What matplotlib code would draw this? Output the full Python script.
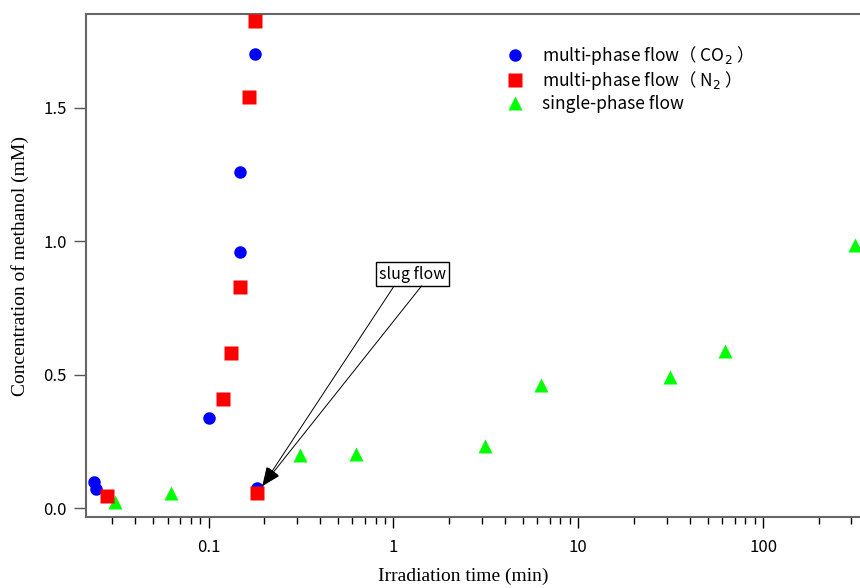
import matplotlib
matplotlib.use("Agg")
import matplotlib.pyplot as plt
from matplotlib.ticker import LogLocator, NullFormatter, FixedLocator, FixedFormatter

# irradiation time (min) and methanol concentration (mM)
co2_time = [0.024, 0.0246, 0.10, 0.183, 0.147, 0.147, 0.179]
co2_conc = [0.10, 0.072, 0.34, 0.075, 0.96, 1.26, 1.70]

n2_time = [0.0283, 0.12, 0.132, 0.147, 0.165, 0.179, 0.183]
n2_conc = [0.046, 0.41, 0.58, 0.83, 1.54, 1.825, 0.056]

single_time = [0.03125, 0.0625, 0.3125, 0.625, 3.125, 6.25, 31.25, 62.5, 312.5]
single_conc = [0.022, 0.056, 0.20, 0.205, 0.233, 0.462, 0.49, 0.59, 0.986]

xtick_vals = [0.1, 1, 10, 100]
xtick_labels = ["0.1", "1", "10", "100"]
ytick_vals = [0.0, 0.5, 1.0, 1.5]
ytick_labels = ["0.0", "0.5", "1.0", "1.5"]

sans = ["Noto Sans CJK JP", "DejaVu Sans"]
serif = ["Liberation Serif", "DejaVu Serif"]

fig = plt.figure(figsize=(8.6, 5.88), dpi=100)
ax = fig.add_axes([0.1, 0.1207, 0.9, 0.8555])

ax.plot(co2_time, co2_conc, "o", color="#0000ff", ms=9, mec="none", zorder=3,
        label="multi-phase flow（ CO$_2$ ）")
ax.plot(n2_time, n2_conc, "s", color="#ff0000", ms=9.5, mec="none", zorder=4,
        label="multi-phase flow（ N$_2$ ）")
ax.plot(single_time, single_conc, "^", color="#00ff00", ms=10, mec="none", zorder=3,
        label="single-phase flow")

ax.set_xscale("log")
ax.set_xlim(0.0217, 334)
ax.set_ylim(-0.0326, 1.851)

ax.xaxis.set_major_locator(FixedLocator(xtick_vals))
ax.xaxis.set_major_formatter(FixedFormatter(xtick_labels))
ax.xaxis.set_minor_locator(LogLocator(base=10, subs=range(2, 10), numticks=20))
ax.xaxis.set_minor_formatter(NullFormatter())
ax.yaxis.set_major_locator(FixedLocator(ytick_vals))
ax.yaxis.set_major_formatter(FixedFormatter(ytick_labels))

ax.tick_params(axis="x", which="major", direction="out", length=8, width=1,
               color="black", pad=8)
ax.tick_params(axis="x", which="minor", direction="out", length=5, width=1, color="black")
ax.tick_params(axis="y", which="major", direction="out", length=9, width=1,
               color="#555555", pad=5)
for lab in ax.get_xticklabels() + ax.get_yticklabels():
    lab.set_family(sans)
    lab.set_fontsize(12)

for s in ["left", "top", "bottom"]:
    ax.spines[s].set_color("#666666")
    ax.spines[s].set_linewidth(1.5)
ax.spines["right"].set_visible(False)

ax.set_ylabel("Concentration of methanol (mM)", family=serif, fontsize=14, labelpad=10)
ax.set_xlabel("Irradiation time (min)", family=serif, fontsize=14)
ax.xaxis.set_label_coords(0.487, -0.1)

leg = ax.legend(loc="upper left", bbox_to_anchor=(0.52, 0.972), frameon=False,
                prop={"family": sans, "size": 12.5}, handletextpad=1.0,
                labelspacing=0.15, handlelength=1.2)

# slug flow annotation
tip = (0.195, 0.083)
ax.text(1.27, 0.877, "slug flow", family=sans, fontsize=11.5, ha="center", va="center",
        bbox=dict(boxstyle="square,pad=0.2", fc="white", ec="black", lw=1), zorder=5)
for start in [(1.0, 0.829), (1.42, 0.833)]:
    ax.annotate("", xy=tip, xytext=start,
                arrowprops=dict(arrowstyle="-|>,head_length=0.85,head_width=0.32",
                                color="black", lw=0.7,
                                mutation_scale=14, shrinkA=0, shrinkB=0), zorder=6)

fig.savefig("out.png", dpi=100)
